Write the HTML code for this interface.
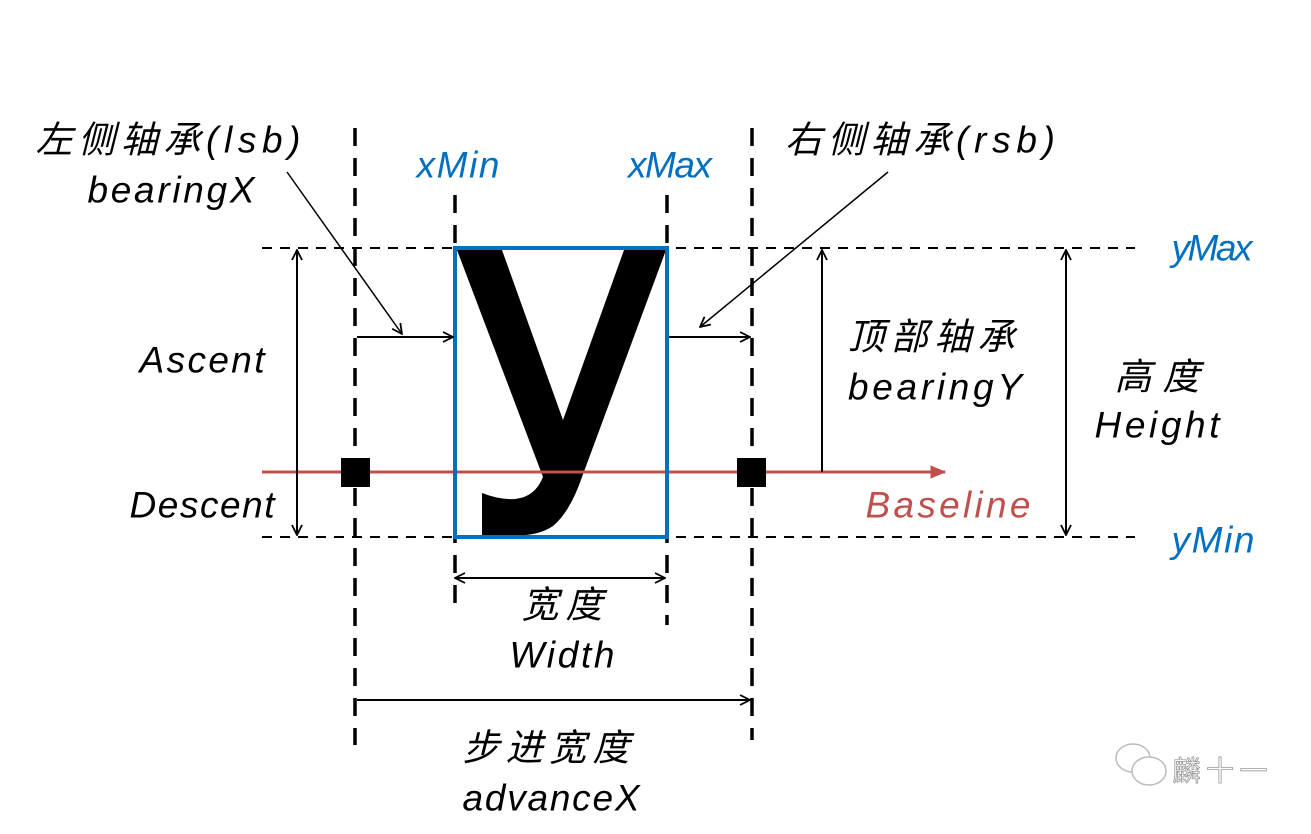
<!DOCTYPE html>
<html><head><meta charset="utf-8"><style>
html,body{margin:0;padding:0;background:#fff;}
svg text{font-family:"Liberation Sans","Noto Sans CJK SC",sans-serif;font-style:italic;font-size:37px;text-anchor:middle;dominant-baseline:central;}
</style></head><body>
<svg width="1311" height="829" viewBox="0 0 1311 829" xmlns="http://www.w3.org/2000/svg">
<defs>
<marker id="a" viewBox="0 0 12 12" refX="11" refY="6" markerWidth="12" markerHeight="12" markerUnits="userSpaceOnUse" orient="auto-start-reverse">
<path d="M1,1 L11,6 L1,11" fill="none" stroke="#000" stroke-width="1.8"/></marker>
<marker id="r" viewBox="0 0 12 12" refX="11" refY="6" markerWidth="16" markerHeight="16" markerUnits="userSpaceOnUse" orient="auto">
<path d="M0,1 L12,6 L0,11 Z" fill="#C0504D"/></marker>
</defs>
<g stroke="#000" stroke-width="2" stroke-dasharray="10,8" fill="none">
<line x1="262" y1="248" x2="1135" y2="248"/>
<line x1="262" y1="537" x2="1135" y2="537"/>
</g>
<g stroke="#000" stroke-width="3.5" stroke-dasharray="18,12" fill="none">
<line x1="355" y1="128" x2="355" y2="745"/>
<line x1="455" y1="195" x2="455" y2="612"/>
<line x1="667" y1="195" x2="667" y2="625"/>
<line x1="752" y1="128" x2="752" y2="740"/>
</g>
<path d="M457,250 L502,250 L563,420 L624,250 L666,250 L582,477 Q570,512 553,526 Q537,537 510,535 L482,535 L482,493 Q500,500 515,499 Q535,497 543,477 Z" fill="#000"/>
<line x1="262" y1="472" x2="945" y2="472" stroke="#C0504D" stroke-width="3" marker-end="url(#r)"/>
<rect x="455" y="248" width="212" height="289" fill="none" stroke="#0070C0" stroke-width="4"/>
<rect x="341" y="458" width="29" height="29" fill="#000"/>
<rect x="737" y="458" width="29" height="29" fill="#000"/>
<g stroke="#000" stroke-width="2" fill="none">
<line x1="357" y1="337" x2="453" y2="337" marker-end="url(#a)"/>
<line x1="669" y1="337" x2="750" y2="337" marker-end="url(#a)"/>
<line x1="287" y1="172" x2="402" y2="334" stroke-width="1.5" marker-end="url(#a)"/>
<line x1="888" y1="172" x2="700" y2="327" stroke-width="1.5" marker-end="url(#a)"/>
<line x1="297" y1="250" x2="297" y2="535" marker-start="url(#a)" marker-end="url(#a)"/>
<line x1="822" y1="472" x2="822" y2="250" marker-end="url(#a)"/>
<line x1="1066" y1="250" x2="1066" y2="535" marker-start="url(#a)" marker-end="url(#a)"/>
<line x1="455" y1="578" x2="665" y2="578" marker-start="url(#a)" marker-end="url(#a)"/>
<line x1="357" y1="700" x2="750" y2="700" marker-end="url(#a)"/>
</g>
<text x="168" y="140" textLength="265" lengthAdjust="spacing">左侧轴承(lsb)</text>
<text x="171" y="190" textLength="167" lengthAdjust="spacing">bearingX</text>
<text x="458" y="165" fill="#0070C0" textLength="83" lengthAdjust="spacing">xMin</text>
<text x="670" y="165" fill="#0070C0" textLength="84" lengthAdjust="spacing">xMax</text>
<text x="920" y="140" textLength="270" lengthAdjust="spacing">右侧轴承(rsb)</text>
<text x="1212" y="248" fill="#0070C0" textLength="81" lengthAdjust="spacing">yMax</text>
<text x="1213" y="540" fill="#0070C0" textLength="83" lengthAdjust="spacing">yMin</text>
<text x="202" y="360" textLength="125" lengthAdjust="spacing">Ascent</text>
<text x="202" y="505" textLength="145" lengthAdjust="spacing">Descent</text>
<text x="931" y="337" textLength="167" lengthAdjust="spacing">顶部轴承</text>
<text x="935" y="387" textLength="174" lengthAdjust="spacing">bearingY</text>
<text x="1157" y="377" textLength="85" lengthAdjust="spacing">高度</text>
<text x="1157" y="425" textLength="125" lengthAdjust="spacing">Height</text>
<text x="948" y="505" fill="#C0504D" textLength="165" lengthAdjust="spacing">Baseline</text>
<text x="562" y="605" textLength="81" lengthAdjust="spacing">宽度</text>
<text x="562" y="655" textLength="105" lengthAdjust="spacing">Width</text>
<text x="546" y="748" textLength="167" lengthAdjust="spacing">步进宽度</text>
<text x="551" y="798" textLength="177" lengthAdjust="spacing">advanceX</text>
<g fill="none" stroke="#bbb" stroke-width="1.5">
<ellipse cx="1133" cy="758" rx="17" ry="14"/>
<ellipse cx="1149" cy="771" rx="17" ry="14" fill="#fff"/>
</g>
<text x="1220" y="771" style="font-style:normal;font-size:28px;fill:#fff;stroke:#999;stroke-width:0.8" textLength="95" lengthAdjust="spacing">麟十一</text>
</svg>
</body></html>
